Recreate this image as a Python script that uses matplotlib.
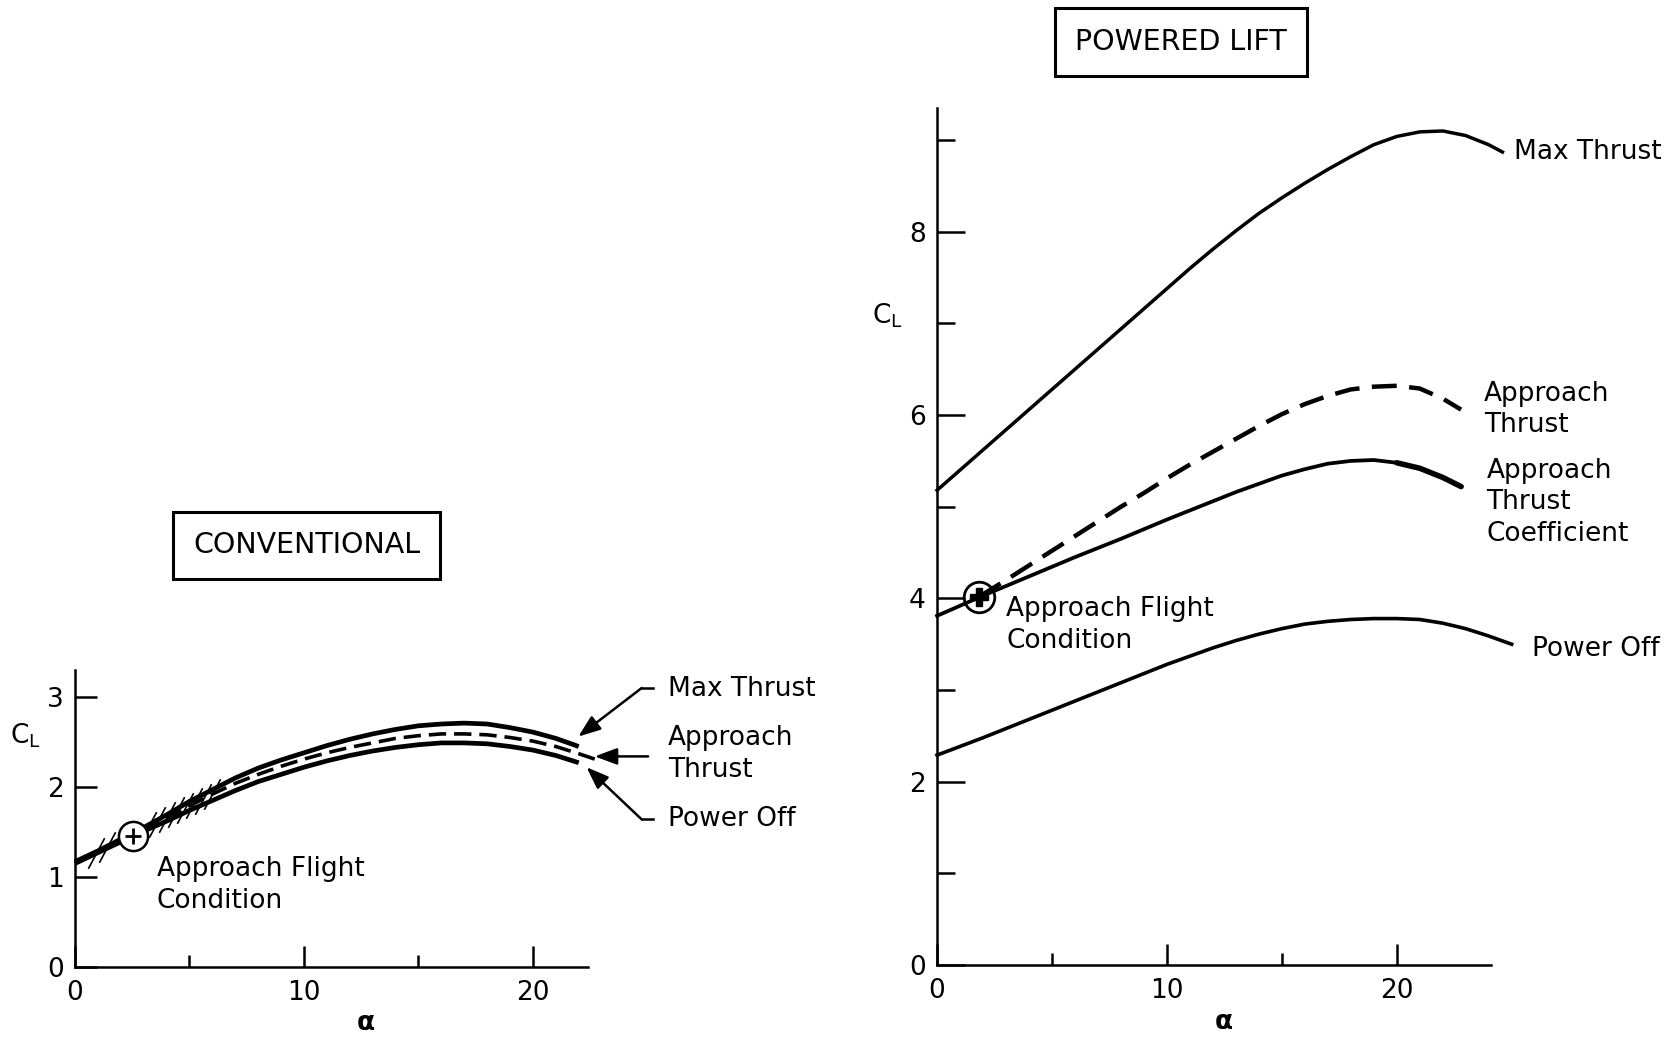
import matplotlib
matplotlib.use("Agg")
import matplotlib.pyplot as plt

# ── Conventional aircraft (left panel) ────────────────────────────────────────
conv_alpha = [0, 1, 2, 3, 4, 5, 6, 7, 8, 9, 10, 11, 12, 13, 14, 15, 16, 17, 18, 19, 20, 21, 22]
conv_max_thrust = [1.17, 1.29, 1.42, 1.55, 1.69, 1.84, 1.97, 2.10, 2.21, 2.30, 2.38, 2.46,
                   2.53, 2.59, 2.64, 2.68, 2.70, 2.71, 2.70, 2.66, 2.61, 2.54, 2.45]
conv_power_off = [1.15, 1.27, 1.39, 1.51, 1.62, 1.74, 1.85, 1.96, 2.06, 2.14, 2.22, 2.29,
                  2.35, 2.40, 2.44, 2.47, 2.49, 2.49, 2.48, 2.45, 2.41, 2.35, 2.27]
conv_alpha_app = [0, 1, 2, 3, 4, 5, 6, 7, 8, 9, 10, 11, 12, 13, 14, 15, 16, 17, 18, 19, 20, 21, 22, 22.7]
conv_approach = [1.16, 1.28, 1.40, 1.52, 1.65, 1.79, 1.92, 2.04, 2.14, 2.23, 2.31, 2.38,
                 2.44, 2.49, 2.54, 2.57, 2.59, 2.59, 2.58, 2.55, 2.51, 2.45, 2.37, 2.31]
conv_flight_pt = (2.52, 1.46)
hatch_alpha = [0.9, 1.4, 3.2, 3.6, 4.0, 4.4, 4.8, 5.2, 5.6, 6.0]
hatch_cl = [1.27, 1.33, 1.56, 1.61, 1.67, 1.72, 1.77, 1.82, 1.87, 1.92]

# ── Powered lift (right panel) ────────────────────────────────────────────────
pl_max_alpha = [0, 2, 4, 6, 8, 10, 11, 12, 13, 14, 15, 16, 17, 18, 19, 20, 21, 22, 23, 24, 24.6]
pl_max_thrust = [5.18, 5.62, 6.06, 6.50, 6.94, 7.38, 7.60, 7.81, 8.01, 8.20, 8.37, 8.53,
                 8.68, 8.82, 8.95, 9.04, 9.09, 9.10, 9.05, 8.95, 8.87]
pl_app_alpha = [1.84, 3, 4, 5, 6, 7, 8, 9, 10, 11, 12, 13, 14, 15, 16, 17, 18, 19, 20, 21, 22, 22.8]
pl_app_thrust = [4.02, 4.20, 4.36, 4.52, 4.68, 4.84, 5.00, 5.15, 5.31, 5.46, 5.60, 5.74,
                 5.88, 6.01, 6.12, 6.21, 6.28, 6.31, 6.32, 6.29, 6.18, 6.06]
pl_coef_alpha = [0, 2, 4, 6, 8, 10, 12, 13, 14, 15, 16, 17, 18, 19, 20, 21, 22, 22.8]
pl_app_coef = [3.81, 4.03, 4.24, 4.45, 4.65, 4.86, 5.06, 5.16, 5.25, 5.34, 5.41, 5.47,
               5.50, 5.51, 5.48, 5.42, 5.32, 5.22]
pl_off_alpha = [0, 2, 4, 6, 8, 10, 11, 12, 13, 14, 15, 16, 17, 18, 19, 20, 21, 22, 23, 24, 25]
pl_power_off = [2.29, 2.48, 2.68, 2.88, 3.08, 3.28, 3.37, 3.46, 3.54, 3.61, 3.67, 3.72,
                3.75, 3.77, 3.78, 3.78, 3.77, 3.73, 3.67, 3.59, 3.50]
pl_flight_pt = (1.84, 4.02)

FS = 19
LINESP = 1.28
plt.rcParams["font.family"] = ["DejaVu Sans"]

fig = plt.figure(figsize=(16.73, 10.37), dpi=100)
ax_c = fig.add_axes([0.0448, 0.0675, 0.3066, 0.2864])
ax_p = fig.add_axes([0.5601, 0.0694, 0.3311, 0.8264])


def _style_axes(ax, ymaj_len, ymin_len):
    for side in ("top", "right"):
        ax.spines[side].set_visible(False)
    for side in ("left", "bottom"):
        ax.spines[side].set_linewidth(1.8)
    ax.tick_params(axis="both", which="both", direction="in", width=1.8,
                   labelsize=FS, color="black")
    ax.tick_params(axis="x", which="major", length=15, pad=9)
    ax.tick_params(axis="x", which="minor", length=8.5)
    ax.tick_params(axis="y", which="major", length=ymaj_len, pad=8)
    ax.tick_params(axis="y", which="minor", length=ymin_len)
    ax.set_xticks([0, 10, 20])
    ax.set_xticks([5, 15], minor=True)


# ── left: conventional ────────────────────────────────────────────────────────
ax = ax_c
ax.set_xlim(0, 22.4)
ax.set_ylim(0, 3.3)
_style_axes(ax, 16, 10)
ax.set_yticks([0, 1, 2, 3])

# hatched band around the approach point
ax.plot(hatch_alpha, hatch_cl, linestyle="none", marker=(2, 0, -28),
        markersize=25, markeredgewidth=1.2, color="black", zorder=1)
ax.plot(conv_alpha, conv_max_thrust, color="black", lw=3.4, clip_on=False,
        solid_capstyle="butt", zorder=3)
ax.plot(conv_alpha, conv_power_off, color="black", lw=3.4, clip_on=False,
        solid_capstyle="butt", zorder=3)
ax.plot(conv_alpha_app, conv_approach, color="black", lw=2.6, clip_on=False,
        dashes=(4.8, 2.2), zorder=3)
ax.plot(*conv_flight_pt, marker="o", markersize=21, markerfacecolor="white",
        markeredgecolor="black", markeredgewidth=1.8, zorder=5)
ax.plot(*conv_flight_pt, marker="+", markersize=12, markeredgewidth=2.0,
        color="black", zorder=6)

ax.text(3.58, 0.91, "Approach Flight\nCondition", fontsize=FS, ha="left",
        va="center", linespacing=LINESP)

# arrow call-outs on the right of the conventional panel
arrow_kw = dict(arrowstyle="-|>,head_length=0.75,head_width=0.28", lw=1.8,
                color="black", shrinkA=0, shrinkB=0, mutation_scale=18)
ax.annotate("", xy=(21.98, 2.56), xytext=(24.75, 3.10), arrowprops=arrow_kw,
            annotation_clip=False)
ax.plot([24.75, 25.25], [3.10, 3.10], color="black", lw=1.8, clip_on=False)
ax.annotate("", xy=(22.7, 2.34), xytext=(25.03, 2.34), arrowprops=arrow_kw,
            annotation_clip=False)
ax.annotate("", xy=(22.34, 2.22), xytext=(24.75, 1.64), arrowprops=arrow_kw,
            annotation_clip=False)
ax.plot([24.75, 25.25], [1.64, 1.64], color="black", lw=1.8, clip_on=False)

ax.text(25.9, 3.09, "Max Thrust", fontsize=FS, ha="left", va="center")
ax.text(25.9, 2.37, "Approach\nThrust", fontsize=FS, ha="left", va="center",
        linespacing=LINESP)
ax.text(25.9, 1.65, "Power Off", fontsize=FS, ha="left", va="center")

ax.text(-0.097, 0.78, r"C$_\mathregular{L}$", transform=ax.transAxes,
        fontsize=FS, ha="center", va="center")
ax.text(0.567, -0.19, "α", transform=ax.transAxes, fontsize=FS,
        fontweight="bold", ha="center", va="center")

# ── right: powered lift ───────────────────────────────────────────────────────
ax = ax_p
ax.set_xlim(0, 24.1)
ax.set_ylim(0, 9.35)
_style_axes(ax, 20, 13)
ax.set_yticks([0, 2, 4, 6, 8])
ax.set_yticks([1, 3, 5, 7, 9], minor=True)

ax.plot(pl_max_alpha, pl_max_thrust, color="black", lw=2.5, clip_on=False)
ax.plot(pl_app_alpha, pl_app_thrust, color="black", lw=3.2, clip_on=False,
        dashes=(5.6, 2.8))
ax.plot(pl_coef_alpha, pl_app_coef, color="black", lw=2.7, clip_on=False)
ax.plot(pl_coef_alpha[-4:], pl_app_coef[-4:], color="black", lw=4.0,
        clip_on=False, solid_capstyle="round")
ax.plot(pl_off_alpha, pl_power_off, color="black", lw=2.6, clip_on=False)
ax.plot(*pl_flight_pt, marker="o", markersize=22, markerfacecolor="none",
        markeredgecolor="black", markeredgewidth=2.0, zorder=5)
ax.plot(*pl_flight_pt, marker="P", markersize=13, color="black", zorder=6)

ax.text(3.0, 3.71, "Approach Flight\nCondition", fontsize=FS, ha="left",
        va="center", linespacing=LINESP)
ax.text(25.1, 8.87, "Max Thrust", fontsize=FS, ha="left", va="center")
ax.text(23.8, 6.06, "Approach\nThrust", fontsize=FS, ha="left", va="center",
        linespacing=LINESP)
ax.text(23.9, 5.05, "Approach\nThrust\nCoefficient", fontsize=FS, ha="left",
        va="center", linespacing=LINESP)
ax.text(25.9, 3.45, "Power Off", fontsize=FS, ha="left", va="center")

ax.text(-0.09, 0.758, r"C$_\mathregular{L}$", transform=ax.transAxes,
        fontsize=FS, ha="center", va="center")
ax.text(0.518, -0.0665, "α", transform=ax.transAxes, fontsize=FS,
        fontweight="bold", ha="center", va="center")

# ── boxed panel titles ────────────────────────────────────────────────────────
box = dict(boxstyle="square,pad=0.7", facecolor="white", edgecolor="black", lw=2.2)
fig.text(0.1832, 0.474, "CONVENTIONAL", fontsize=20.5, ha="center", va="center", bbox=box)
fig.text(0.7059, 0.9595, "POWERED LIFT", fontsize=20.5, ha="center", va="center", bbox=box)

fig.savefig("out.png", dpi=100, facecolor="white")
